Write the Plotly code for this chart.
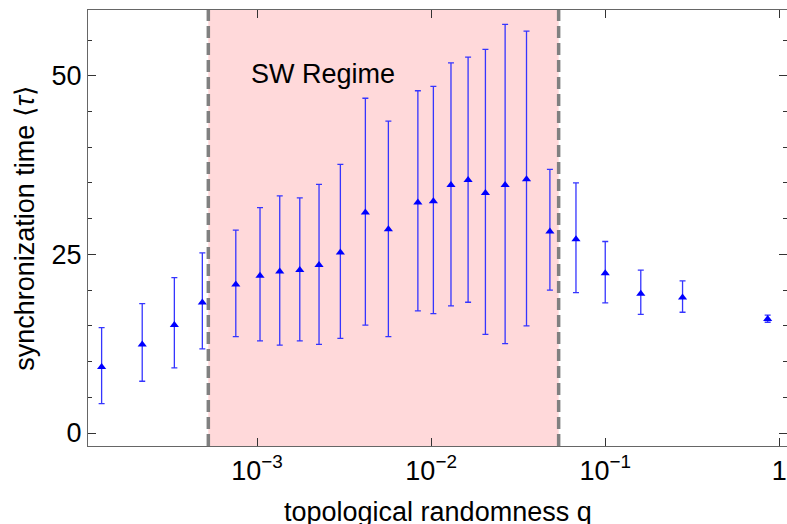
import plotly.graph_objects as go
import math

# data
q = [1.28e-4, 2.19e-4, 3.35e-4, 4.85e-4, 7.55e-4, 1.04e-3, 1.35e-3, 1.76e-3,
     2.27e-3, 3.01e-3, 4.19e-3, 5.68e-3, 8.39e-3, 1.03e-2, 1.30e-2, 1.63e-2,
     2.05e-2, 2.66e-2, 3.53e-2, 4.81e-2, 6.79e-2, 0.100, 0.160, 0.278, 0.857]
tau = [9.24, 12.4, 15.1, 18.25, 20.8, 22.0, 22.6, 22.8, 23.5, 25.25, 30.85, 28.5,
       32.25, 32.45, 34.7, 35.4, 33.6, 34.7, 35.5, 28.2, 27.1, 22.35, 19.5, 18.95, 15.97]
tau_hi = [14.75, 18.1, 21.75, 25.2, 28.4, 31.55, 33.2, 32.9, 34.8, 37.6, 46.85, 43.65,
          47.9, 48.5, 51.8, 52.6, 53.7, 57.2, 56.25, 36.9, 35.0, 26.8, 22.8, 21.3, 16.5]
tau_lo = [4.1, 7.24, 9.1, 11.76, 13.5, 12.9, 12.3, 12.9, 12.4, 13.25, 15.1, 13.5,
          17.1, 16.7, 17.8, 18.3, 13.8, 12.5, 15.0, 20.0, 19.65, 18.2, 16.6, 16.9, 15.5]
sw_bounds = [5.25e-4, 0.054]
x_ticks = [1e-3, 1e-2, 1e-1, 1]
x_tick_labels = ["10<sup>\u22123</sup>", "10<sup>\u22122</sup>", "10<sup>\u22121</sup>", "1"]
y_ticks = [0, 25, 50]
x_title = "topological randomness q"
y_title = "synchronization time \u27e8<i>\u03c4</i>\u27e9"

err_plus = [h - t for h, t in zip(tau_hi, tau)]
err_minus = [t - l for t, l in zip(tau, tau_lo)]

FONT = "Liberation Sans, Arial, sans-serif"
FS = 27

fig = go.Figure()

fig.add_shape(type="rect", xref="x", yref="paper", x0=sw_bounds[0], x1=sw_bounds[1],
              y0=0, y1=1, fillcolor="#FFD9DA", line_width=0, layer="below")
for xb in sw_bounds:
    fig.add_shape(type="line", xref="x", yref="paper", x0=xb, x1=xb, y0=0, y1=1,
                  line=dict(color="#808080", width=3.5, dash="12px,5px"), layer="above")

fig.add_trace(go.Scatter(
    x=q, y=tau, mode="markers",
    marker=dict(symbol="triangle-up", size=8, color="#0000FF"),
    error_y=dict(type="data", symmetric=False, array=err_plus, arrayminus=err_minus,
                 color="#3535FF", thickness=1.3, width=3),
    showlegend=False,
))

fig.add_annotation(text="SW Regime", xref="x", yref="y", x=math.log10(0.0024), y=50.3,
                   showarrow=False, font=dict(family=FONT, size=FS, color="black"))
fig.add_annotation(text=x_title, xref="paper", yref="paper", x=0.5, y=-0.151,
                   xanchor="center", yanchor="middle", showarrow=False,
                   font=dict(family=FONT, size=FS, color="black"))

fig.update_layout(
    width=787, height=524,
    margin=dict(l=88, r=0, t=10, b=78),
    plot_bgcolor="white", paper_bgcolor="white",
    font=dict(family=FONT, size=FS, color="black"),
)
fig.update_xaxes(
    type="log", range=[-3.971, 0.044], automargin=False,
    tickvals=x_ticks, ticktext=x_tick_labels,
    ticks="inside", ticklen=8, tickcolor="#333",
    showline=True, linecolor="#666", linewidth=1.3, mirror="allticks",
    showgrid=False, zeroline=False,
    tickfont=dict(size=FS),
)
fig.update_yaxes(
    range=[-1.82, 59.2], tickvals=y_ticks, automargin=False,
    ticks="inside", ticklen=8, tickcolor="#333",
    minor=dict(ticks="inside", dtick=5, ticklen=4, tickcolor="#333", showgrid=False),
    showline=True, linecolor="#666", linewidth=1.3, mirror="allticks",
    showgrid=False, zeroline=False,
    title=dict(text=y_title, font=dict(size=FS), standoff=8),
    tickfont=dict(size=FS),
)

fig.write_html("out.html")
